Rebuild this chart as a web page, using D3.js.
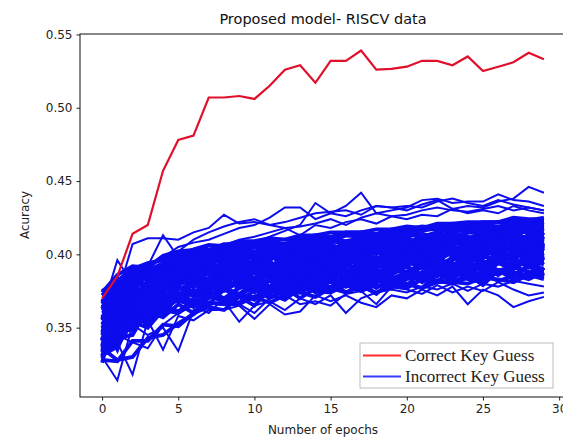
<!DOCTYPE html>
<html>
  <head>
    <title>Proposed model- RISCV data</title>
    <script src="https://cdn.jsdelivr.net/npm/d3@7"></script>
    <style>
      body { margin: 0; background: #fff; }
      .axis text { font-family: "DejaVu Sans", sans-serif; font-size: 12px; fill: #222; }
      .axis line { stroke: #222; }
      .axis path { display: none; }
    </style>
  </head>
  <body>
    <script>
      // epochs on the x axis
      var epochs = [0,1,2,3,4,5,6,7,8,9,10,11,12,13,14,15,16,17,18,19,20,21,22,23,24,25,26,27,28,29];

      // accuracy of the correct key guess
      var correctKey = [.370,.385,.414,.420,.457,.478,.481,.507,.507,.508,.506,.515,.526,.529,.517,.532,.532,.539,.526,.5265,.528,.532,.532,.529,.535,.525,.528,.531,.5375,.533];

      // accuracy of the incorrect key guesses, dense part of the bundle (a subset)
      var incorrectKeys = [
        [.333,.349,.348,.361,.357,.366,.360,.371,.369,.367,.376,.370,.377,.370,.377,.382,.374,.379,.373,.382,.380,.377,.387,.381,.386,.379,.389,.386,.383,.388],
        [.342,.340,.357,.355,.366,.361,.369,.366,.376,.373,.369,.377,.374,.381,.374,.378,.383,.378,.383,.377,.387,.385,.381,.389,.384,.383,.389,.383,.393,.389],
        [.334,.339,.362,.351,.365,.371,.366,.372,.368,.378,.377,.373,.382,.378,.375,.383,.379,.387,.381,.385,.379,.388,.387,.383,.391,.390,.386,.392,.388,.386],
        [.344,.338,.362,.364,.360,.371,.376,.371,.378,.372,.378,.383,.376,.382,.385,.377,.386,.384,.381,.389,.388,.382,.391,.390,.386,.395,.389,.391,.396,.389],
        [.336,.358,.350,.357,.371,.368,.374,.379,.375,.381,.374,.382,.381,.386,.380,.386,.390,.382,.388,.386,.392,.386,.395,.389,.393,.388,.396,.398,.391,.395],
        [.351,.340,.370,.361,.363,.378,.373,.380,.383,.377,.383,.378,.388,.382,.388,.386,.384,.392,.386,.394,.387,.392,.395,.389,.398,.393,.397,.392,.400,.396],
        [.337,.363,.357,.373,.367,.370,.380,.375,.381,.386,.380,.386,.380,.386,.391,.385,.390,.386,.393,.391,.387,.395,.391,.398,.394,.392,.401,.394,.398,.400],
        [.359,.351,.370,.359,.377,.378,.373,.384,.381,.380,.388,.385,.389,.383,.390,.394,.387,.392,.395,.389,.395,.399,.391,.397,.399,.395,.394,.402,.398,.401],
        [.334,.370,.363,.373,.371,.372,.382,.383,.379,.388,.384,.391,.384,.390,.387,.394,.387,.395,.392,.390,.399,.393,.398,.392,.401,.399,.396,.401,.405,.396],
        [.355,.350,.377,.366,.378,.383,.378,.381,.390,.384,.390,.384,.393,.391,.388,.391,.398,.392,.397,.399,.392,.399,.395,.402,.397,.405,.401,.397,.405,.403],
        [.341,.365,.355,.380,.368,.383,.387,.380,.388,.390,.383,.391,.390,.395,.389,.396,.392,.400,.391,.398,.400,.395,.403,.399,.402,.397,.407,.403,.400,.407],
        [.362,.358,.372,.370,.383,.379,.384,.389,.384,.387,.394,.388,.394,.388,.397,.395,.392,.398,.395,.402,.396,.403,.397,.402,.406,.401,.400,.406,.404,.402],
        [.350,.343,.377,.370,.380,.386,.380,.389,.390,.385,.391,.395,.389,.396,.394,.391,.400,.395,.402,.395,.401,.401,.397,.406,.400,.406,.400,.406,.409,.404],
        [.342,.373,.367,.380,.370,.380,.387,.392,.387,.393,.388,.392,.397,.392,.400,.393,.398,.401,.394,.401,.399,.405,.400,.406,.400,.406,.409,.400,.408,.409],
        [.364,.368,.362,.381,.386,.381,.390,.387,.395,.393,.389,.399,.393,.399,.394,.402,.399,.396,.403,.406,.399,.404,.408,.403,.401,.409,.408,.404,.413,.406],
        [.341,.373,.378,.371,.384,.389,.384,.394,.389,.395,.399,.392,.397,.401,.396,.402,.396,.403,.406,.400,.406,.400,.407,.411,.405,.404,.412,.410,.405,.412],
        [.363,.361,.382,.383,.380,.390,.394,.389,.395,.393,.400,.399,.394,.402,.399,.398,.406,.404,.400,.407,.403,.411,.404,.409,.412,.407,.412,.407,.412,.415],
        [.356,.384,.374,.387,.383,.393,.388,.395,.400,.392,.396,.401,.401,.397,.405,.403,.398,.407,.406,.401,.410,.406,.411,.406,.411,.414,.407,.414,.411,.408],
        [.368,.372,.386,.377,.390,.388,.395,.399,.394,.401,.400,.396,.405,.400,.405,.407,.402,.405,.410,.405,.408,.412,.406,.415,.408,.413,.416,.411,.418,.413],
        [.362,.368,.386,.387,.386,.395,.391,.398,.402,.398,.405,.401,.400,.407,.406,.402,.409,.411,.406,.413,.407,.412,.415,.412,.409,.416,.416,.419,.414,.418],
        [.368,.382,.386,.384,.392,.393,.400,.397,.401,.404,.400,.406,.406,.404,.404,.410,.409,.408,.412,.410,.415,.411,.411,.416,.418,.414,.419,.416,.421,.419],
        [.368,.374,.386,.390,.391,.398,.397,.403,.400,.405,.407,.404,.407,.410,.408,.408,.413,.413,.410,.413,.413,.417,.417,.415,.417,.420,.417,.420,.419,.422],
        [.375,.382,.390,.394,.396,.398,.402,.401,.406,.406,.406,.409,.407,.410,.412,.411,.413,.415,.413,.416,.416,.416,.419,.419,.418,.420,.422,.420,.422,.423],
        [.339,.351,.349,.364,.361,.373,.368,.375,.370,.377,.380,.374,.379,.384,.378,.384,.386,.379,.385,.383,.388,.383,.389,.392,.386,.392,.386,.395,.392,.389],
        [.357,.343,.369,.376,.368,.382,.381,.378,.387,.383,.388,.392,.385,.387,.394,.391,.388,.396,.398,.391,.396,.392,.400,.400,.395,.403,.398,.401,.397,.404],
        [.347,.375,.366,.374,.387,.379,.389,.390,.386,.395,.390,.390,.399,.397,.392,.400,.399,.396,.403,.398,.397,.405,.403,.401,.409,.403,.409,.402,.409,.404],
        [.355,.368,.384,.383,.390,.391,.389,.397,.394,.401,.397,.401,.397,.405,.402,.400,.407,.407,.401,.409,.408,.405,.413,.408,.412,.410,.409,.416,.415,.411],
        [.363,.379,.382,.390,.392,.397,.397,.400,.404,.401,.405,.405,.404,.409,.407,.410,.408,.411,.413,.411,.414,.412,.415,.418,.415,.418,.416,.418,.420,.418],
        [.330,.354,.357,.354,.363,.360,.367,.373,.367,.373,.371,.377,.371,.375,.381,.375,.381,.375,.381,.384,.378,.383,.381,.389,.383,.381,.389,.388,.384,.391],
        [.345,.343,.345,.363,.363,.369,.364,.372,.376,.371,.370,.378,.378,.374,.379,.383,.378,.384,.377,.383,.388,.381,.387,.385,.390,.384,.389,.386,.392,.385],
        [.329,.349,.367,.353,.372,.368,.375,.370,.381,.379,.375,.383,.379,.378,.386,.384,.380,.387,.390,.384,.384,.392,.390,.386,.392,.394,.388,.393,.397,.395],
        [.354,.335,.363,.368,.360,.378,.371,.377,.376,.384,.383,.377,.384,.387,.382,.381,.389,.388,.384,.392,.391,.386,.394,.394,.389,.394,.398,.390,.397,.393],
        [.342,.360,.352,.369,.361,.376,.381,.376,.384,.378,.383,.386,.390,.383,.388,.391,.385,.394,.388,.391,.395,.391,.390,.398,.400,.393,.399,.397,.394,.399],
        [.331,.361,.372,.365,.378,.372,.382,.387,.383,.388,.382,.388,.386,.393,.392,.388,.393,.389,.396,.396,.394,.400,.394,.396,.401,.399,.404,.397,.403,.399],
        [.338,.369,.367,.377,.373,.386,.381,.381,.390,.389,.387,.387,.395,.394,.389,.397,.397,.393,.396,.393,.402,.400,.397,.403,.397,.405,.402,.407,.402,.407],
        [.368,.353,.376,.368,.382,.384,.381,.390,.387,.387,.395,.393,.391,.397,.396,.392,.399,.402,.397,.402,.397,.401,.406,.400,.405,.403,.408,.403,.402,.408],
        [.349,.352,.380,.371,.382,.388,.391,.386,.393,.390,.396,.390,.396,.399,.397,.395,.403,.401,.396,.400,.406,.405,.401,.410,.403,.407,.404,.410,.409,.404],
        [.363,.380,.370,.382,.378,.391,.387,.393,.397,.391,.396,.399,.394,.397,.403,.402,.399,.398,.405,.404,.402,.408,.408,.403,.408,.412,.407,.409,.413,.409],
        [.350,.365,.381,.379,.389,.386,.394,.392,.392,.400,.399,.396,.403,.401,.398,.405,.405,.400,.405,.409,.405,.404,.410,.413,.406,.410,.414,.412,.409,.415],
        [.367,.381,.379,.389,.387,.394,.391,.399,.399,.397,.402,.404,.400,.403,.407,.402,.408,.408,.405,.411,.409,.408,.413,.409,.415,.414,.412,.416,.415,.417],
        [.364,.374,.388,.387,.392,.393,.398,.399,.398,.403,.401,.404,.406,.403,.407,.409,.407,.409,.411,.408,.412,.414,.412,.412,.415,.417,.416,.414,.418,.417],
        [.372,.377,.388,.389,.394,.399,.399,.403,.404,.404,.407,.407,.407,.410,.410,.410,.413,.412,.413,.415,.414,.416,.418,.417,.419,.419,.419,.421,.421,.420],
        [.372,.382,.389,.393,.397,.400,.403,.403,.407,.407,.407,.410,.410,.411,.413,.412,.415,.415,.414,.417,.417,.419,.418,.421,.420,.422,.422,.423,.423,.425],
        [.331,.337,.354,.350,.362,.360,.367,.367,.366,.372,.370,.373,.369,.377,.375,.374,.379,.375,.379,.378,.377,.383,.382,.380,.384,.386,.382,.385,.387,.385],
        [.352,.352,.354,.355,.370,.368,.367,.377,.377,.373,.380,.376,.383,.379,.378,.384,.387,.382,.387,.381,.387,.391,.385,.391,.389,.386,.394,.390,.396,.389],
        [.326,.366,.368,.365,.373,.371,.380,.377,.385,.383,.380,.388,.383,.388,.383,.391,.390,.388,.394,.388,.394,.393,.398,.392,.394,.399,.394,.401,.396,.399],
        [.359,.341,.371,.380,.375,.384,.387,.383,.389,.393,.388,.394,.388,.395,.397,.393,.395,.401,.394,.400,.402,.396,.402,.404,.400,.406,.405,.401,.408,.403],
        [.342,.360,.384,.375,.388,.384,.390,.394,.391,.398,.392,.398,.400,.395,.398,.404,.402,.399,.404,.407,.402,.406,.403,.410,.409,.406,.413,.408,.407,.412],
        [.345,.378,.385,.386,.386,.395,.395,.393,.401,.399,.398,.403,.403,.400,.407,.405,.404,.410,.408,.406,.411,.407,.413,.413,.410,.412,.417,.412,.417,.413],
        [.336,.328,.330,.343,.345,.353,.359,.367,.366,.366,.371,.367,.372,.374,.371,.377,.374,.378,.374,.378,.380,.377,.381,.381,.380,.384,.383,.381,.386,.383],
        [.374,.386,.392,.391,.399,.402,.403,.406,.406,.409,.409,.411,.410,.413,.413,.415,.415,.415,.417,.417,.419,.418,.421,.421,.422,.422,.422,.425,.424,.424],
        [.328,.327,.341,.341,.352,.351,.360,.364,.362,.371,.365,.376,.373,.379,.377,.382,.378,.382,.383,.379,.383,.386,.382,.387,.388,.385,.389,.391,.388,.387]
      ];

      // incorrect key guesses that stray outside the dense bundle
      var incorrectOutliers = [
        [.365,.372,.407,.411,.411,.410,.415,.418,.427,.421,.422,.420,.418,.419,.421,.424,.420,.425,.428,.426,.427,.430,.432,.430,.429,.431,.433,.430,.432,.430],
        [.360,.370,.385,.392,.398,.405,.408,.410,.414,.418,.420,.425,.432,.432,.424,.428,.433,.442,.428,.430,.432,.437,.438,.435,.436,.436,.441,.437,.436,.433],
        [.355,.365,.378,.386,.392,.397,.400,.402,.405,.404,.408,.412,.416,.420,.435,.428,.426,.430,.433,.432,.430,.434,.437,.431,.433,.432,.436,.438,.446,.442],
        [.362,.396,.380,.392,.413,.398,.404,.407,.406,.410,.412,.415,.418,.413,.420,.418,.422,.424,.421,.426,.424,.427,.426,.431,.428,.430,.428,.433,.430,.428],
        [.350,.362,.382,.390,.398,.402,.410,.415,.419,.422,.424,.420,.422,.425,.428,.429,.430,.427,.433,.432,.433,.432,.436,.438,.435,.433,.437,.434,.432,.430],
        [.330,.314,.352,.345,.350,.334,.362,.365,.368,.354,.365,.368,.362,.370,.366,.372,.360,.370,.374,.376,.374,.378,.376,.380,.375,.380,.378,.382,.380,.378],
        [.335,.340,.318,.355,.335,.358,.355,.362,.362,.365,.356,.366,.359,.361,.372,.368,.372,.367,.364,.372,.370,.376,.372,.378,.366,.376,.372,.364,.368,.371],
        [.328,.345,.340,.336,.352,.360,.365,.360,.370,.366,.360,.370,.372,.366,.368,.365,.373,.375,.366,.378,.376,.373,.379,.374,.378,.375,.381,.376,.372,.374]
      ];

      var xTicks = [0,5,10,15,20,25,30];
      var yTicks = [0.35,0.40,0.45,0.50,0.55];
      var legendLabels = ["Correct Key Guess", "Incorrect Key Guess"];

      var redColor = "#e0102c", blueColor = "#0c0cee";

      var W = 563, H = 437;
      var margin = {top: 34, left: 80, right: -3, bottom: 40};
      var width = W - margin.left - margin.right,
          height = H - margin.top - margin.bottom;

      var svg = d3.select("body").append("svg")
          .attr("width", W)
          .attr("height", H);

      var g = svg.append("g")
          .attr("transform", "translate(" + margin.left + "," + margin.top + ")");

      var x = d3.scaleLinear().domain([-1.45, 30.45]).range([0, width]);
      var y = d3.scaleLinear().domain([0.3027, 0.5503]).range([height, 0]);

      var line = d3.line()
          .x(function(d, i) { return x(epochs[i]); })
          .y(function(d) { return y(d); });

      var plot = g.append("g");

      // blue bundle: the dense part is drawn heavier so it reads as solid
      plot.selectAll(".wrong")
          .data(incorrectKeys)
        .enter().append("path")
          .attr("class", "wrong")
          .attr("d", line)
          .attr("fill", "none")
          .attr("stroke", blueColor)
          .attr("stroke-width", 3.8);

      plot.selectAll(".stray")
          .data(incorrectOutliers)
        .enter().append("path")
          .attr("class", "stray")
          .attr("d", line)
          .attr("fill", "none")
          .attr("stroke", blueColor)
          .attr("stroke-width", 2);

      // red line
      plot.append("path")
          .datum(correctKey)
          .attr("d", line)
          .attr("fill", "none")
          .attr("stroke", redColor)
          .attr("stroke-width", 2.2);

      // axes
      g.append("g")
          .attr("class", "axis")
          .attr("transform", "translate(0," + height + ")")
          .call(d3.axisBottom(x).tickValues(xTicks).tickSize(3.5).tickPadding(4));

      g.append("g")
          .attr("class", "axis")
          .call(d3.axisLeft(y).tickValues(yTicks).tickFormat(d3.format(".2f")).tickSize(3.5).tickPadding(4));

      // spines
      g.append("rect")
          .attr("width", width)
          .attr("height", height)
          .attr("fill", "none")
          .attr("stroke", "#111")
          .attr("stroke-width", 1);

      // title and labels
      svg.append("text")
          .attr("x", margin.left + width / 2)
          .attr("y", 24)
          .attr("text-anchor", "middle")
          .style("font-family", "DejaVu Sans, sans-serif")
          .style("font-size", "14.5px")
          .attr("fill", "#111")
          .text("Proposed model- RISCV data");

      svg.append("text")
          .attr("x", margin.left + width / 2)
          .attr("y", 434)
          .attr("text-anchor", "middle")
          .style("font-family", "DejaVu Sans, sans-serif")
          .style("font-size", "12px")
          .attr("fill", "#222")
          .text("Number of epochs");

      svg.append("text")
          .attr("transform", "translate(29," + (margin.top + 181) + ") rotate(-90)")
          .attr("text-anchor", "middle")
          .style("font-family", "DejaVu Sans, sans-serif")
          .style("font-size", "12px")
          .attr("fill", "#222")
          .text("Acuracy");

      // legend
      var leg = svg.append("g").attr("transform", "translate(360,343)");
      leg.append("rect")
          .attr("width", 193)
          .attr("height", 45)
          .attr("fill", "#fff")
          .attr("stroke", "#bbb");
      var items = leg.selectAll(".item")
          .data(legendLabels)
        .enter().append("g")
          .attr("transform", function(d, i) { return "translate(0," + (12.5 + i * 21) + ")"; });
      items.append("line")
          .attr("x1", 3).attr("x2", 41)
          .attr("stroke", function(d, i) { return i == 0 ? "#ff2a2a" : "#3a3aff"; })
          .attr("stroke-width", 1.8);
      items.append("text")
          .attr("x", 45)
          .attr("dy", "0.35em")
          .style("font-family", "Liberation Serif, serif")
          .style("font-size", "17px")
          .attr("fill", "#222")
          .text(function(d) { return d; });
    </script>
  </body>
</html>
